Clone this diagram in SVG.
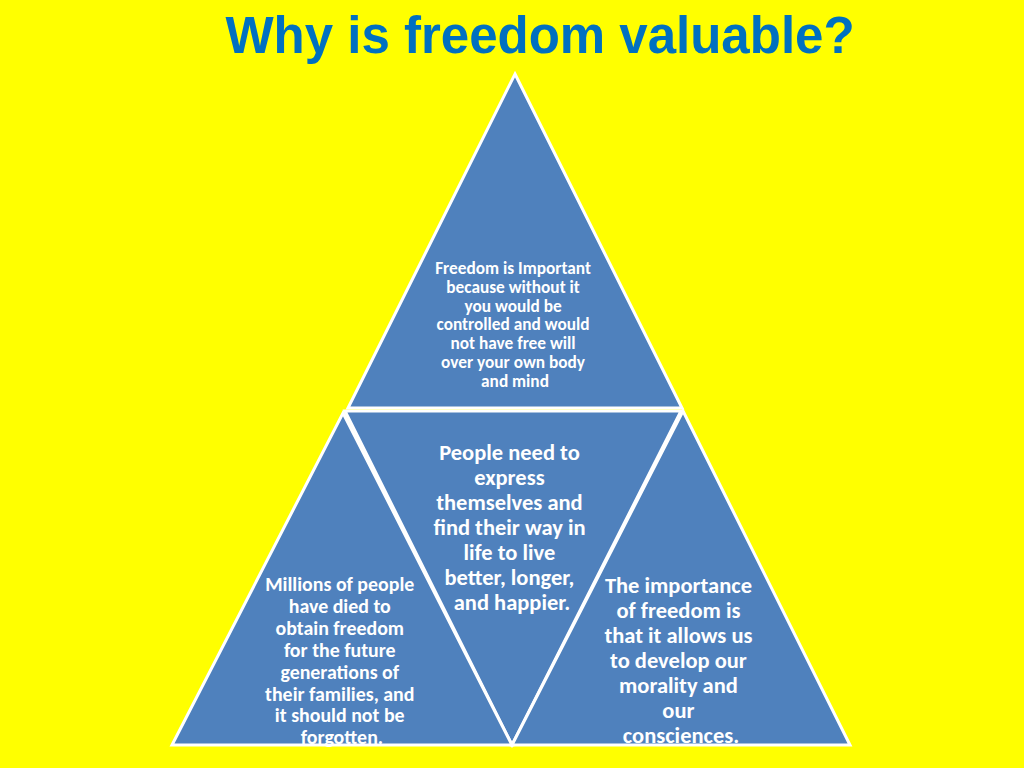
<svg xmlns="http://www.w3.org/2000/svg" width="1024" height="768" viewBox="0 0 1024 768">
  <style>
    .tri { fill: #4F81BD; stroke: #FFFFFF; stroke-width: 3; stroke-linejoin: miter; }
    .t { fill: #FFFFFF; font-family: Carlito, Lato, "Liberation Sans", sans-serif; font-weight: bold; text-anchor: middle; }
    .title { fill: #0070C0; font-family: "Liberation Sans", Arial, sans-serif; font-weight: bold; font-size: 51px; text-anchor: middle; }
  </style>
  <rect x="0" y="0" width="1024" height="768" fill="#FFFF00"/>
  <text class="title" x="540" y="53">Why is freedom valuable?</text>

  <g id="node-top">
    <polygon class="tri" points="515,74 682,408 348,408"/>
    <text class="t" font-size="17.3">
      <tspan x="515" y="274">Freedom is Important</tspan>
      <tspan x="515" y="292.8">because without it</tspan>
      <tspan x="515" y="311.6">you would be</tspan>
      <tspan x="515" y="330.4">controlled and would</tspan>
      <tspan x="515" y="349.2">not have free will</tspan>
      <tspan x="515" y="368">over your own body</tspan>
      <tspan x="515" y="386.8">and mind</tspan>
    </text>
  </g>

  <g id="node-middle">
    <polygon class="tri" points="345,411 681,411 512,745"/>
    <text class="t" font-size="22.5">
      <tspan x="512" y="460">People need to</tspan>
      <tspan x="512" y="485">express</tspan>
      <tspan x="512" y="510">themselves and</tspan>
      <tspan x="512" y="535">find their way in</tspan>
      <tspan x="512" y="560">life to live</tspan>
      <tspan x="512" y="585">better, longer,</tspan>
      <tspan x="512" y="610">and happier.</tspan>
    </text>
  </g>

  <g id="node-left">
    <polygon class="tri" points="343,413 512,745 172,745"/>
    <text class="t" font-size="19.9">
      <tspan x="342" y="591">Millions of people</tspan>
      <tspan x="342" y="612.9">have died to</tspan>
      <tspan x="342" y="634.8">obtain freedom</tspan>
      <tspan x="342" y="656.7">for the future</tspan>
      <tspan x="342" y="678.6">generations of</tspan>
      <tspan x="342" y="700.5">their families, and</tspan>
      <tspan x="342" y="722.4">it should not be</tspan>
      <tspan x="342" y="744.3">forgotten.</tspan>
    </text>
  </g>

  <g id="node-right">
    <polygon class="tri" points="683,411 850,745 512,745"/>
    <text class="t" font-size="22.5">
      <tspan x="681" y="593">The importance</tspan>
      <tspan x="681" y="618">of freedom is</tspan>
      <tspan x="681" y="643">that it allows us</tspan>
      <tspan x="681" y="668">to develop our</tspan>
      <tspan x="681" y="693">morality and</tspan>
      <tspan x="681" y="718">our</tspan>
      <tspan x="681" y="743">consciences.</tspan>
    </text>
  </g>

  <g id="connectors"></g>
</svg>
